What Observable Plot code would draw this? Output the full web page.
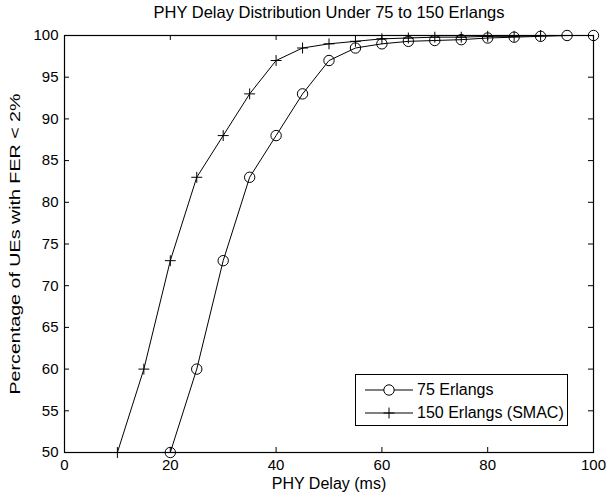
<!DOCTYPE html>
<html>
<head>
<meta charset="utf-8">
<script src="https://cdn.jsdelivr.net/npm/d3@7"></script>
<script src="https://cdn.jsdelivr.net/npm/@observablehq/plot@0.6"></script>
<style>
  html, body { margin: 0; padding: 0; background: #fff; }
  #wrap { position: relative; width: 609px; height: 497px; font-family: "Liberation Sans", Arial, sans-serif; }
  #legend { position: absolute; left: 355px; top: 374px; width: 211px; height: 50px; border: 1px solid #000; background: #fff; font-size: 16px; }
  .row { position: absolute; left: 0; height: 20px; }
  .row svg { position: absolute; left: 9px; top: 0; }
  .row span { position: absolute; left: 61px; top: 0; line-height: 20px; white-space: nowrap; }
</style>
</head>
<body>
<div id="wrap"></div>
<script>
const delay75 = [20, 25, 30, 35, 40, 45, 50, 55, 60, 65, 70, 75, 80, 85, 90, 95, 100];
const pct75 = [50, 60, 73, 83, 88, 93, 97, 98.5, 99, 99.3, 99.4, 99.5, 99.7, 99.8, 99.9, 100, 100];
const delay150 = [10, 15, 20, 25, 30, 35, 40, 45, 50, 55, 60, 65, 70, 75, 80, 85, 90];
const pct150 = [50, 60, 73, 83, 88, 93, 97, 98.5, 99, 99.3, 99.6, 99.7, 99.8, 99.8, 99.9, 99.9, 100];
const seriesNames = ["75 Erlangs", "150 Erlangs (SMAC)"];
const xTickLabels = [0, 20, 40, 60, 80, 100];
const yTicks = [50, 55, 60, 65, 70, 75, 80, 85, 90, 95, 100];
const titleText = "PHY Delay Distribution Under 75 to 150 Erlangs";
const xLabel = "PHY Delay (ms)";
const yLabel = "Percentage of UEs with FER < 2%";

const s75 = delay75.map((d, i) => ({x: d, y: pct75[i], s: seriesNames[0]}));
const s150 = delay150.map((d, i) => ({x: d, y: pct150[i], s: seriesNames[1]}));

const W = 609, H = 497;
const mt = 35, mb = 45, ml = 64, mr = 16;
const fh = H - mt - mb;
const fw = W - ml - mr;
const tl = 5;
const FS = 15;

const chart = Plot.plot({
  width: W, height: H,
  marginTop: mt, marginBottom: mb, marginLeft: ml, marginRight: mr,
  style: {fontFamily: "Liberation Sans, Arial, sans-serif", fontSize: FS + "px", color: "#000", background: "#fff"},
  x: {domain: [0, 100]},
  y: {domain: [50, 100]},
  marks: [
    Plot.axisX(xTickLabels, {tickSize: 0, tickPadding: 7, fontSize: FS, label: null}),
    Plot.axisY(yTicks, {tickSize: 0, tickPadding: 6, fontSize: FS, label: null}),
    // inward ticks
    Plot.tickX(xTickLabels.filter(d => d > 0 && d < 100), {x: d => d, insetTop: fh - tl, stroke: "#000"}),
    Plot.tickX(xTickLabels.filter(d => d > 0 && d < 100), {x: d => d, insetBottom: fh - tl, stroke: "#000"}),
    Plot.tickY(yTicks.filter(d => d > 50 && d < 100), {y: d => d, insetRight: fw - tl, stroke: "#000"}),
    Plot.tickY(yTicks.filter(d => d > 50 && d < 100), {y: d => d, insetLeft: fw - tl, stroke: "#000"}),
    Plot.line(s75, {x: "x", y: "y", stroke: "#000", strokeWidth: 1}),
    Plot.dot(s75, {x: "x", y: "y", r: 5.2, stroke: "#000", fill: "none", strokeWidth: 1}),
    Plot.line(s150, {x: "x", y: "y", stroke: "#000", strokeWidth: 1}),
    Plot.dot(s150, {x: "x", y: "y", r: 3.6, symbol: "plus", stroke: "#000", fill: "none", strokeWidth: 1}),
    Plot.frame({stroke: "#000", strokeWidth: 1.2}),
    Plot.text([titleText], {frameAnchor: "top", lineAnchor: "middle", dy: -23, fontSize: 16.5, fill: "#000", className: "ttl"}),
    Plot.text([xLabel], {frameAnchor: "bottom", lineAnchor: "middle", dy: 31, fontSize: 16, fill: "#000", className: "xlab"}),
    Plot.text([yLabel], {frameAnchor: "left", textAnchor: "middle", lineAnchor: "middle", dx: -49, rotate: -90, fontSize: 14, fill: "#000", className: "ylab"})
  ]
});
const wrap = document.getElementById("wrap");
wrap.appendChild(chart);
// stretch the rotated label to the reference's length
d3.select(chart).selectAll(".ylab text").attr("textLength", 301).attr("lengthAdjust", "spacingAndGlyphs");

// legend
const legend = document.createElement("div");
legend.id = "legend";
const symbols = ["circle", "plus"];
seriesNames.forEach((name, i) => {
  const row = document.createElement("div");
  row.className = "row";
  row.style.top = (5 + i * 23) + "px";
  const svg = d3.create("svg").attr("width", 48).attr("height", 20);
  svg.append("line").attr("x1", 0).attr("x2", 48).attr("y1", 10).attr("y2", 10).attr("stroke", "#000");
  const sym = symbols[i] === "circle" ? d3.symbolCircle : d3.symbolPlus;
  const size = symbols[i] === "circle" ? Math.PI * 5.2 * 5.2 : Math.PI * 3.6 * 3.6;
  svg.append("path").attr("d", d3.symbol(sym, size)()).attr("transform", "translate(24,10)")
     .attr("fill", i === 0 ? "#fff" : "none").attr("stroke", "#000");
  row.appendChild(svg.node());
  const span = document.createElement("span");
  span.textContent = name;
  row.appendChild(span);
  legend.appendChild(row);
});
wrap.appendChild(legend);
</script>
</body>
</html>
